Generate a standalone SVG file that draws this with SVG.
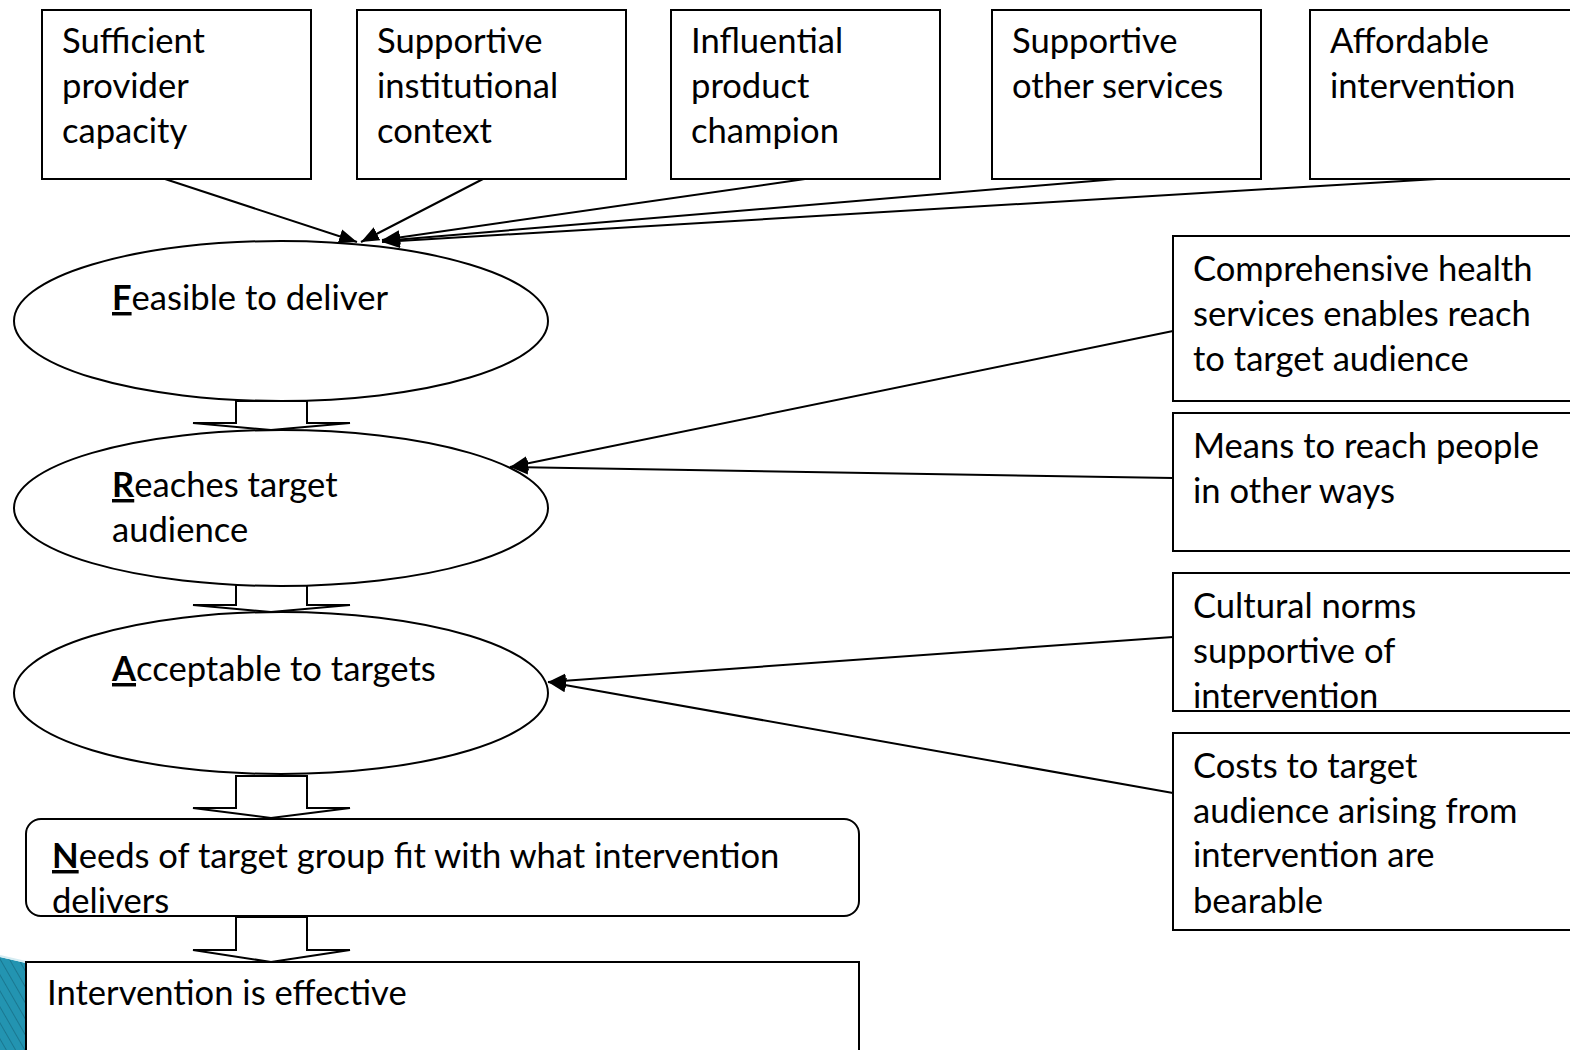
<svg xmlns="http://www.w3.org/2000/svg" width="1570" height="1050" viewBox="0 0 1570 1050">
<defs>
<style>
.box{fill:#fff;stroke:#000;stroke-width:2}
.t{font-family:Lato,"Liberation Sans",sans-serif;font-size:34.6px;fill:#000}
.b{font-weight:bold;text-decoration:underline}
.c{stroke:#000;stroke-width:2;fill:none}
.blk{fill:#fff;stroke:#000;stroke-width:2;stroke-linejoin:miter}
</style>
<marker id="ah2" viewBox="0 0 10 10" refX="10" refY="5" markerWidth="18" markerHeight="18" markerUnits="userSpaceOnUse" orient="auto">
<path d="M0,1 L10,5 L0,9 z" fill="#000"/>
</marker>
<pattern id="stripes" width="8" height="8" patternUnits="userSpaceOnUse" patternTransform="rotate(-30)">
<rect width="8" height="8" fill="#2394b1"/>
<line x1="0" y1="0" x2="0" y2="8" stroke="#1a7790" stroke-width="2"/>
</pattern>
</defs>
<rect width="1570" height="1050" fill="#fff"/>
<g id="decor">
<polygon points="0,957 26,963 26,1050 0,1050" fill="url(#stripes)"/>
<line x1="0" y1="956" x2="26" y2="962" stroke="#d5ecf2" stroke-width="2"/>
</g>

<g id="connectors">
<line class="c" x1="165" y1="179" x2="357" y2="242" marker-end="url(#ah2)"/>
<line class="c" x1="483" y1="179" x2="361" y2="242" marker-end="url(#ah2)"/>
<line class="c" x1="805" y1="179" x2="382" y2="240" marker-end="url(#ah2)"/>
<line class="c" x1="1117" y1="179" x2="382" y2="241" marker-end="url(#ah2)"/>
<line class="c" x1="1437" y1="179" x2="382" y2="242" marker-end="url(#ah2)"/>
<line class="c" x1="1173" y1="331" x2="510" y2="467" marker-end="url(#ah2)"/>
<line class="c" x1="1173" y1="478" x2="510" y2="467" marker-end="url(#ah2)"/>
<line class="c" x1="1173" y1="637" x2="548" y2="682" marker-end="url(#ah2)"/>
<line class="c" x1="1173" y1="793" x2="548" y2="682" marker-end="url(#ah2)"/>
</g>

<g id="block-arrows">
<path class="blk" d="M236,401 L307,401 L307,423 L350,423 L271,430 L193,423 L236,423 Z"/>
<path class="blk" d="M236,584 L307,584 L307,605 L350,605 L271,612 L193,605 L236,605 Z"/>
<path class="blk" d="M236,776 L307,776 L307,808 L350,808 L271,818 L193,808 L236,808 Z"/>
<path class="blk" d="M236,917 L307,917 L307,950 L350,950 L271,962 L193,950 L236,950 Z"/>
</g>

<g id="n-sufficient">
<rect class="box" x="42" y="10" width="269" height="169"/>
<text class="t" x="62" y="53">Sufficient</text>
<text class="t" x="62" y="98">provider</text>
<text class="t" x="62" y="143">capacity</text>
</g>
<g id="n-institutional">
<rect class="box" x="357" y="10" width="269" height="169"/>
<text class="t" x="377" y="53">Supportive</text>
<text class="t" x="377" y="98">institutional</text>
<text class="t" x="377" y="143">context</text>
</g>
<g id="n-champion">
<rect class="box" x="671" y="10" width="269" height="169"/>
<text class="t" x="691" y="53">Influential</text>
<text class="t" x="691" y="98">product</text>
<text class="t" x="691" y="143">champion</text>
</g>
<g id="n-other-services">
<rect class="box" x="992" y="10" width="269" height="169"/>
<text class="t" x="1012" y="53">Supportive</text>
<text class="t" x="1012" y="98">other services</text>
</g>
<g id="n-affordable">
<rect class="box" x="1310" y="10" width="280" height="169"/>
<text class="t" x="1330" y="53">Affordable</text>
<text class="t" x="1330" y="98">intervention</text>
</g>

<g id="n-feasible">
<ellipse class="box" cx="281" cy="321" rx="267" ry="80"/>
<text class="t" x="112" y="310"><tspan class="b">F</tspan>easible to deliver</text>
</g>
<g id="n-reaches">
<ellipse class="box" cx="281" cy="508" rx="267" ry="78"/>
<text class="t" x="112" y="497"><tspan class="b">R</tspan>eaches target</text>
<text class="t" x="112" y="542">audience</text>
</g>
<g id="n-acceptable">
<ellipse class="box" cx="281" cy="693" rx="267" ry="81"/>
<text class="t" x="112" y="681"><tspan class="b">A</tspan>cceptable to targets</text>
</g>
<g id="n-needs">
<rect class="box" x="26" y="819" width="833" height="97" rx="15"/>
<text class="t" x="52" y="868"><tspan class="b">N</tspan>eeds of target group fit with what intervention</text>
<text class="t" x="52" y="913">delivers</text>
</g>
<g id="n-effective">
<rect class="box" x="26" y="962" width="833" height="100"/>
<text class="t" x="47" y="1005">Intervention is effective</text>
</g>

<g id="n-comprehensive">
<rect class="box" x="1173" y="236" width="420" height="165"/>
<text class="t" x="1193" y="281">Comprehensive health</text>
<text class="t" x="1193" y="326">services enables reach</text>
<text class="t" x="1193" y="371">to target audience</text>
</g>
<g id="n-means">
<rect class="box" x="1173" y="413" width="420" height="138"/>
<text class="t" x="1193" y="458">Means to reach people</text>
<text class="t" x="1193" y="503">in other ways</text>
</g>
<g id="n-cultural">
<rect class="box" x="1173" y="573" width="420" height="138"/>
<text class="t" x="1193" y="618">Cultural norms</text>
<text class="t" x="1193" y="663">supportive of</text>
<text class="t" x="1193" y="708">intervention</text>
</g>
<g id="n-costs">
<rect class="box" x="1173" y="733" width="420" height="197"/>
<text class="t" x="1193" y="778">Costs to target</text>
<text class="t" x="1193" y="823">audience arising from</text>
<text class="t" x="1193" y="867">intervention are</text>
<text class="t" x="1193" y="913">bearable</text>
</g>
</svg>
